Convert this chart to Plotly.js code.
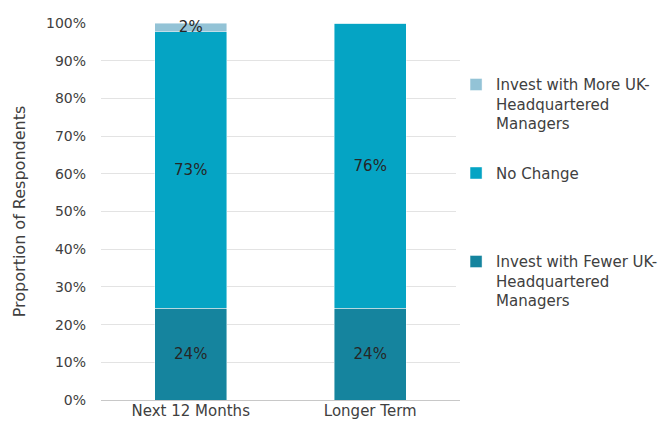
<!DOCTYPE html>
<html><head><meta charset="utf-8">
<script src="https://cdn.plot.ly/plotly-3.0.1.min.js"></script>
<style>html,body{margin:0;padding:0;background:#fff}#chart{width:664px;height:432px}</style>
</head><body><div id="chart"></div>
<script>
var categories = ["Next 12 Months", "Longer Term"];
var fewer = [24.3, 24.3];
var noChange = [73.4, 75.7];
var more = [2.3, 0];
var seriesNames = ["Invest with Fewer UK-<br>Headquartered<br>Managers", "No Change<br> <br> ", "Invest with More UK-<br>Headquartered<br>Managers"];
var seriesColors = ["#15849e", "#05a4c4", "#93c3d6"];
var yTicks = [0,10,20,30,40,50,60,70,80,90,100];

var fontFam = "DejaVu Sans, sans-serif";
function mk(vals, i, texts){
  return {
    type: "bar", x: categories, y: vals, name: seriesNames[i], legendgroup: "g"+i,
    legendrank: 3 - i,
    marker: {color: seriesColors[i], line: {color: "rgba(255,255,255,0.55)", width: 0.8}},
    width: 0.4, cliponaxis: false,
    text: texts, textposition: "inside", insidetextanchor: "middle", textangle: 0,
    constraintext: "none", textfont: {family: fontFam, size: 15, color: "#262626"},
    hoverinfo: "skip"
  };
}
function lbl(vals){ return vals.map(function(v){ return v > 0 ? Math.round(v) + "%" : ""; }); }
var data = [mk(fewer,0,lbl(fewer)), mk(noChange,1,lbl(noChange)), mk(more,2,lbl(more))];

var layout = {
  width: 664, height: 432, barmode: "stack",
  margin: {l: 101, r: 204, t: 23, b: 32, autoexpand: false},
  paper_bgcolor: "#fff", plot_bgcolor: "#fff",
  font: {family: fontFam, size: 14, color: "#404040"},
  showlegend: true,
  legend: {x: 0.989, xanchor: "left", y: 0.88, yanchor: "top", traceorder: "grouped",
           valign: "top", tracegroupgap: 27, font: {family: fontFam, size: 15, color: "#404040"}},
  xaxis: {type: "category", range: [-0.5, 1.5], showgrid: false, showline: false, ticks: "",
          tickfont: {family: fontFam, size: 15, color: "#404040"}, zeroline: false},
  yaxis: {range: [0, 100], tickvals: yTicks, ticktext: yTicks.map(function(t){return t+"%";}),
          showgrid: true, gridcolor: "#e3e3e3", gridwidth: 1, zeroline: true, zerolinecolor: "#c8c8c8",
          zerolinewidth: 1, ticks: "", ticklen: 0, ticklabelstandoff: 14,
          tickfont: {family: fontFam, size: 14, color: "#404040"},
          title: {text: "Proportion of Respondents", font: {family: fontFam, size: 16, color: "#404040"}, standoff: 16}}
};
Plotly.newPlot("chart", data, layout, {staticPlot: true, displayModeBar: false});
</script></body></html>
